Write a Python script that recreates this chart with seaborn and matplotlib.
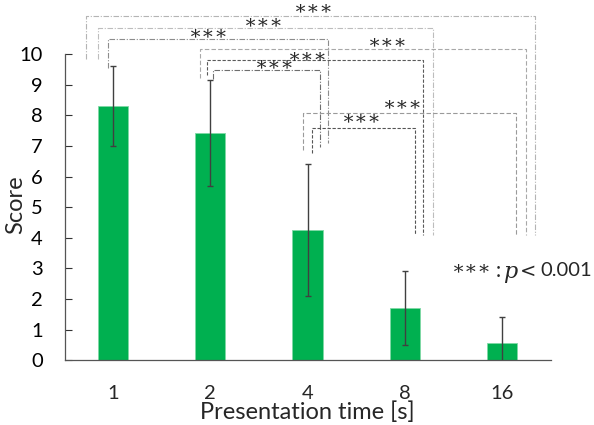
import matplotlib
matplotlib.use("Agg")
import matplotlib.pyplot as plt
import seaborn as sns
import pandas as pd
import numpy as np

# ---- data ----
categories = ["1", "2", "4", "8", "16"]
scores = [8.3, 7.42, 4.25, 1.7, 0.55]
sd = [1.3, 1.73, 2.15, 1.2, 0.87]
y_ticks = [0, 1, 2, 3, 4, 5, 6, 7, 8, 9, 10]

# significance comparisons (group index pairs), all p < 0.001
pairs = [(0, 4), (0, 3), (0, 2), (1, 4), (1, 3), (1, 2), (2, 4), (2, 3)]
sig_labels = ["∗∗∗"] * len(pairs)

# ---- bracket layout (offsets / heights in data units) ----
bracket_y = [11.24, 10.85, 10.49, 10.16, 9.80, 9.48, 8.07, 7.58]
star_y = [11.55, 11.09, 10.73, 10.44, 10.0, 9.72, 8.42, 7.96]
left_dx = [-0.278, -0.154, -0.05, -0.105, -0.033, 0.03, -0.05, 0.05]
right_dx = [0.34, 0.29, 0.21, 0.25, 0.19, 0.13, 0.15, 0.11]
left_bot = [9.84, 9.84, 9.54, 9.22, 9.3, 9.2, 6.86, 6.78]
right_bot = [4.09, 4.09, 7.09, 4.09, 4.09, 6.97, 4.09, 4.09]
star_x = [2.07, 1.55, 0.98, 2.83, 2.0, 1.66, 2.98, 2.56]
line_cols = ["#b4b4b4", "#bdbdbd", "#8c8c8c", "#a8a8a8", "#5a5a5a", "#6e6e6e", "#9a9a9a", "#555555"]
line_styles = [(0, (5, 1.5, 1, 1.5)), (0, (5, 1.5, 1, 1.5)), (0, (5, 1.5, 1, 1.5)),
               (0, (4, 2)), (0, (3, 1.5)), (0, (5, 1.5, 1, 1.5)),
               (0, (4, 2)), (0, (3, 1.5))]

df = pd.DataFrame({"time": categories, "score": scores})

sns.set_style("ticks")
plt.rcParams["font.family"] = ["Lato", "DejaVu Sans"]

fig = plt.figure(figsize=(5.94, 4.25), dpi=100)
ax = fig.add_axes([64.5 / 594, 64.7 / 425, 486 / 594, 306.3 / 425])

sns.barplot(data=df, x="time", y="score", order=categories, color="#00b050",
            saturation=1, width=0.31, errorbar=None, ax=ax,
            edgecolor="#7fd9a5", linewidth=0.6)
xs = np.arange(len(categories))
ax.errorbar(xs, scores, yerr=sd, fmt="none", ecolor="#404040", elinewidth=1.0,
            capsize=2.5, capthick=1.0, zorder=5)

ax.set_xlim(-0.5, 4.5)
ax.set_ylim(0, 10)
ax.set_yticks(y_ticks)
ax.set_yticklabels([str(t) for t in y_ticks])
ax.tick_params(axis="y", direction="in", length=5, width=0.8, pad=15.5,
               labelsize=14.5, colors="#333333", labelcolor="black")
ax.tick_params(axis="x", length=0, pad=17.5, labelsize=14.5)
for s in ["top", "right"]:
    ax.spines[s].set_visible(False)
for s in ["left", "bottom"]:
    ax.spines[s].set_color("#555555")
    ax.spines[s].set_linewidth(0.9)

ax.set_xlabel("Presentation time [s]", fontsize=17, labelpad=0)
ax.set_ylabel("Score", fontsize=17)
ax.yaxis.set_label_coords(-0.078, 0.507)

# brackets
for i, (a, b) in enumerate(pairs):
    xl = a + left_dx[i]
    xr = b + right_dx[i]
    yy = bracket_y[i]
    ax.plot([xl, xl, xr, xr], [left_bot[i], yy, yy, right_bot[i]],
            color=line_cols[i], lw=0.8, linestyle=line_styles[i], clip_on=False, zorder=3)
    ax.text(star_x[i], star_y[i], sig_labels[i], ha="center", va="center_baseline",
            fontsize=14, family="DejaVu Serif", clip_on=False)

# legend note
ax.text(3.49, 3.06, "∗∗∗", ha="left", va="center_baseline", fontsize=14, family="DejaVu Serif")
ax.text(3.96, 2.98, ":", ha="center", va="center_baseline", fontsize=15)
ax.text(4.01, 2.98, "p", ha="left", va="center_baseline", fontsize=16,
        family="DejaVu Serif", style="italic")
ax.text(4.19, 2.98, "<", ha="left", va="center_baseline", fontsize=14, family="DejaVu Sans")
ax.text(4.40, 2.98, "0.001", ha="left", va="center_baseline", fontsize=14.5, clip_on=False)

fig.savefig("out.png", dpi=100)
